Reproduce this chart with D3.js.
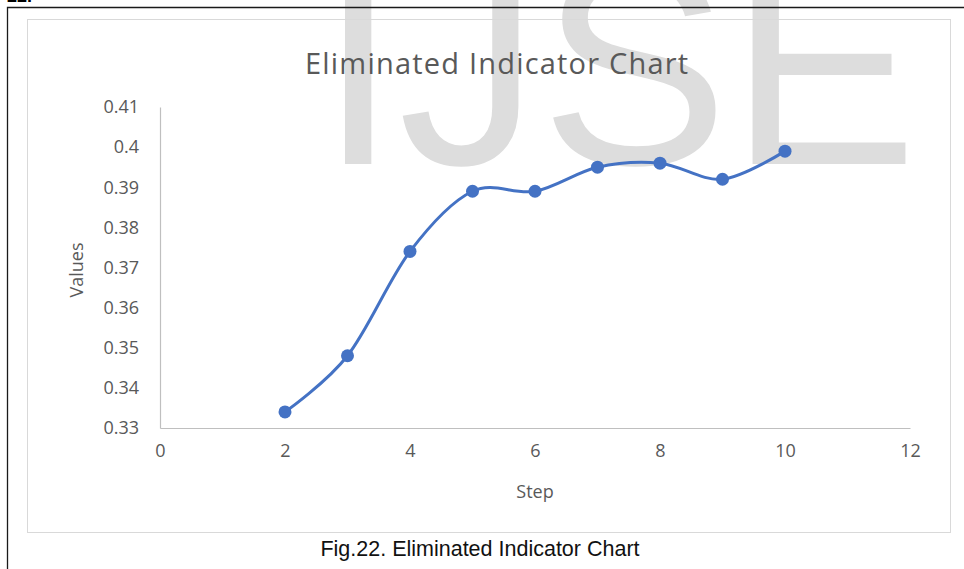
<!DOCTYPE html>
<html>
<head>
<meta charset="utf-8">
<script src="https://cdn.jsdelivr.net/npm/d3@7"></script>
<style>
  body { margin: 0; background: #fff; }
  svg { display: block; }
  .tick-label { font-family: "Open Sans", sans-serif; font-size: 18px; fill: #595959; }
</style>
</head>
<body>
<div id="chart"></div>
<script>
// data
const steps = [2, 3, 4, 5, 6, 7, 8, 9, 10]
const values = [0.334, 0.348, 0.374, 0.389, 0.389, 0.395, 0.396, 0.392, 0.399]
const xTicks = [0, 2, 4, 6, 8, 10, 12]
const yTicks = [0.33, 0.34, 0.35, 0.36, 0.37, 0.38, 0.39, 0.4, 0.41]

const W = 964, H = 569
const plot = { left: 160, right: 910, top: 107, bottom: 428 }

const svg = d3.select('#chart').append('svg')
    .attr('width', W)
    .attr('height', H)

// watermark behind everything
svg.append('text')
    .attr('x', 319)
    .attr('y', 164)
    .style('font-family', '"Liberation Sans", Arial, sans-serif')
    .style('font-size', '282px')
    .style('letter-spacing', '1px')
    .attr('fill', '#dddddd')
    .text('IJSE')

// figure number cut off at top
svg.append('text')
    .attr('x', 7)
    .attr('y', 2)
    .style('font-family', '"Liberation Sans", Arial, sans-serif')
    .style('font-size', '18px')
    .style('font-weight', 'bold')
    .attr('fill', '#000')
    .text('22.')

// outer page frame (top + left only)
svg.append('path')
    .attr('d', `M7.5,${H} V7.5 H${W}`)
    .attr('fill', 'none')
    .attr('stroke', '#1a1a1a')
    .attr('stroke-width', 1.3)

// chart area border
svg.append('rect')
    .attr('x', 27.5)
    .attr('y', 19.5)
    .attr('width', 923)
    .attr('height', 513)
    .attr('fill', 'none')
    .attr('stroke', '#d9d9d9')
    .attr('stroke-width', 1)

const x = d3.scaleLinear().domain([0, 12]).range([plot.left, plot.right])
const y = d3.scaleLinear().domain([0.33, 0.41]).range([plot.bottom, plot.top])

// axes
const xAxis = d3.axisBottom(x).tickValues(xTicks).tickSize(0).tickPadding(16)
const yAxis = d3.axisLeft(y).tickValues(yTicks).tickSize(0).tickPadding(21)
    .tickFormat(d => d3.format('')(+d.toFixed(2)))

const gx = svg.append('g')
    .attr('transform', `translate(0,${plot.bottom})`)
    .call(xAxis)
gx.select('.domain').attr('stroke', '#bfbfbf').attr('stroke-width', 1.2)
gx.selectAll('text').attr('class', 'tick-label')

const gy = svg.append('g')
    .attr('transform', `translate(${plot.left},0)`)
    .call(yAxis)
gy.select('.domain').attr('stroke', '#bfbfbf').attr('stroke-width', 1.2)
gy.selectAll('text').attr('class', 'tick-label')

// title
svg.append('text')
    .attr('x', 305)
    .attr('y', 74)
    .style('font-family', '"Open Sans", sans-serif')
    .style('font-size', '29px')
    .style('letter-spacing', '1.2px')
    .attr('fill', '#595959')
    .text('Eliminated Indicator Chart')

// axis titles
svg.append('text')
    .attr('x', 535)
    .attr('y', 498)
    .attr('text-anchor', 'middle')
    .style('font-family', '"Open Sans", sans-serif')
    .style('font-size', '18px')
    .attr('fill', '#595959')
    .text('Step')

svg.append('text')
    .attr('transform', 'translate(83,270) rotate(-90)')
    .attr('text-anchor', 'middle')
    .style('font-family', '"Open Sans", sans-serif')
    .style('font-size', '18px')
    .attr('fill', '#595959')
    .text('Values')

// smoothed series line
const line = d3.line()
    .x((d, i) => x(steps[i]))
    .y(d => y(d))
    .curve(d3.curveCardinal.tension(0))

svg.append('path')
    .datum(values)
    .attr('d', line)
    .attr('fill', 'none')
    .attr('stroke', '#4472c4')
    .attr('stroke-width', 3)

svg.selectAll('.pt')
    .data(values)
    .join('circle')
    .attr('class', 'pt')
    .attr('cx', (d, i) => x(steps[i]))
    .attr('cy', d => y(d))
    .attr('r', 6.5)
    .attr('fill', '#4472c4')

// caption
svg.append('text')
    .attr('x', 480)
    .attr('y', 556)
    .attr('text-anchor', 'middle')
    .style('font-family', '"Liberation Sans", Arial, sans-serif')
    .style('font-size', '21.5px')
    .attr('fill', '#111')
    .text('Fig.22. Eliminated Indicator Chart')
</script>
</body>
</html>
